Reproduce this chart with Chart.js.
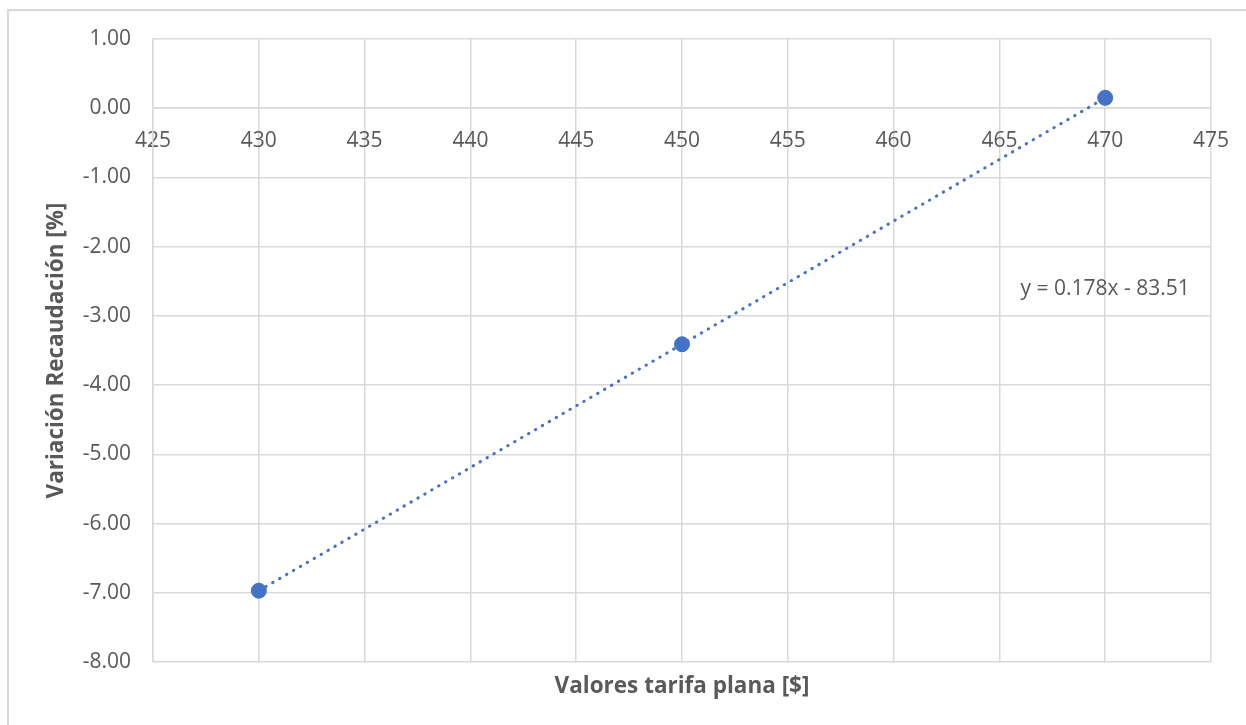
<!DOCTYPE html>
<html>
<head>
<meta charset="utf-8">
<title>Variación Recaudación</title>
<script src="https://cdn.jsdelivr.net/npm/chart.js@4"></script>
<style>
  html, body { margin: 0; padding: 0; background: #fff; overflow: hidden; }
  #frame {
    position: absolute; left: 7px; top: 9px;
    width: 1300px; height: 800px;
    border: 2px solid #d9d9d9;
  }
  #wrap { position: absolute; left: 0; top: 0; width: 1246px; height: 725px; }
</style>
</head>
<body>
<div id="frame"></div>
<div id="wrap"><canvas id="scatterChart"></canvas></div>
<script>
// tarifa plana vs. variación de recaudación
var tarifas = [430, 450, 470];
var variaciones = [-6.97, -3.41, 0.15];

// linear trend shown on the chart
var pendiente = 0.178;
var intercepto = -83.51;
var ecuacion = 'y = 0.178x - 83.51';

var xTicks = [425, 430, 435, 440, 445, 450, 455, 460, 465, 470, 475];
var yTicks = [1, 0, -1, -2, -3, -4, -5, -6, -7, -8];

var gris = '#595959';
var rejilla = '#d9d9d9';
var azul = '#4472C4';
var fuente = '"Open Sans", sans-serif';

var puntos = tarifas.map(function(t, i) {
  return { x: t, y: variaciones[i] };
});

var xIni = tarifas[0];
var xFin = tarifas[tarifas.length - 1];
var tendencia = [
  { x: xIni, y: pendiente * xIni + intercepto },
  { x: xFin, y: pendiente * xFin + intercepto }
];

// equation text drawn next to the trendline
var etiquetaEcuacion = {
  id: 'etiquetaEcuacion',
  afterDatasetsDraw: function(chart) {
    var ctx = chart.ctx;
    var px = chart.scales.x.getPixelForValue(470);
    var py = chart.scales.y.getPixelForValue(-2.61);
    ctx.save();
    ctx.font = '21px ' + fuente;
    ctx.fillStyle = gris;
    ctx.textAlign = 'center';
    ctx.textBaseline = 'middle';
    ctx.fillText(ecuacion, px, py);
    ctx.restore();
  }
};

var ctx = document.getElementById('scatterChart');

var myChart = new Chart(ctx, {
  type: 'scatter',
  data: {
    datasets: [{
      label: 'Variación',
      data: puntos,
      backgroundColor: azul,
      borderColor: azul,
      pointRadius: 7.5,
      pointHoverRadius: 7.5
    }, {
      type: 'line',
      label: 'Tendencia',
      data: tendencia,
      borderColor: azul,
      borderWidth: 3,
      borderDash: [0.5, 7.5],
      borderCapStyle: 'round',
      pointRadius: 0,
      fill: false
    }]
  },
  options: {
    responsive: true,
    maintainAspectRatio: false,
    animation: false,
    layout: { padding: { top: 39, right: 35, bottom: 0, left: 0 } },
    plugins: {
      legend: { display: false },
      tooltip: { enabled: false }
    },
    scales: {
      x: {
        type: 'linear',
        position: { y: 0 },
        min: 425,
        max: 475,
        afterBuildTicks: function(scale) {
          scale.ticks = xTicks.map(function(v) { return { value: v }; });
        },
        // the end labels should not push the plot area inwards
        afterFit: function(scale) {
          scale.paddingLeft = 0;
          scale.paddingRight = 0;
        },
        grid: { color: rejilla, lineWidth: 1.5, drawTicks: false },
        border: { color: rejilla, width: 1.5 },
        ticks: {
          color: gris,
          font: { family: fuente, size: 21 },
          padding: 20,
          maxRotation: 0
        }
      },
      x2: {
        type: 'linear',
        axis: 'x',
        position: 'bottom',
        min: 425,
        max: 475,
        grid: { display: false },
        border: { display: false },
        ticks: { display: false },
        afterFit: function(scale) { scale.height = 63; },
        title: {
          display: true,
          text: 'Valores tarifa plana [$]',
          color: gris,
          font: { family: fuente, size: 22.5, weight: 'bold' },
          padding: { top: 0, bottom: 25 }
        }
      },
      y: {
        type: 'linear',
        position: 'left',
        min: -8,
        max: 1,
        afterBuildTicks: function(scale) {
          scale.ticks = yTicks.map(function(v) { return { value: v }; });
        },
        afterFit: function(scale) { scale.width = 153; },
        grid: { color: rejilla, lineWidth: 1.5, drawTicks: false },
        border: { color: rejilla, width: 1.5 },
        ticks: {
          color: gris,
          font: { family: fuente, size: 21 },
          padding: 22,
          callback: function(v) { return Number(v).toFixed(2); }
        },
        title: {
          display: true,
          text: 'Variación Recaudación [%]',
          color: gris,
          font: { family: fuente, size: 22.5, weight: 'bold' },
          padding: { top: 43, bottom: 0 }
        }
      }
    }
  },
  plugins: [etiquetaEcuacion]
});
</script>
</body>
</html>
